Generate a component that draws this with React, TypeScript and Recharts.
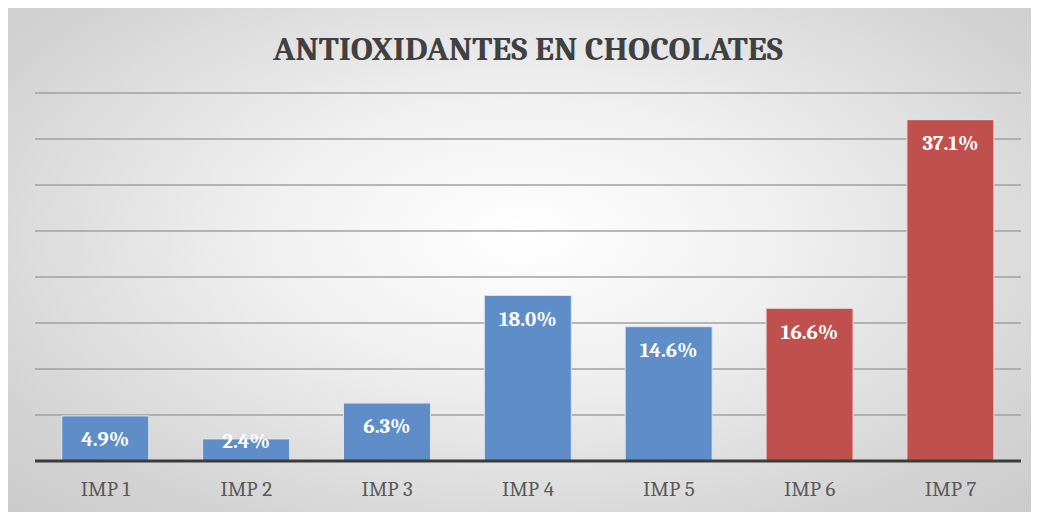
import { Bar, BarChart, CartesianGrid, Cell, LabelList, XAxis, YAxis } from "recharts";

const categories = ["IMP 1", "IMP 2", "IMP 3", "IMP 4", "IMP 5", "IMP 6", "IMP 7"];
const values = [4.9, 2.4, 6.3, 18.0, 14.6, 16.6, 37.1];
const yTicks = [0, 5, 10, 15, 20, 25, 30, 35, 40];
const title = "ANTIOXIDANTES EN CHOCOLATES";

const data = categories.map((name, i) => ({ name, value: values[i] }));

const BLUE = "#5f8dc7";
const RED = "#c0504d";
const FONT = "Caladea, Cambria, 'Liberation Serif', serif";

// label sits inside the top of the bar, but is pushed up when the bar is too short
function ValueLabel(props: any) {
  const { x, y, width, height, value } = props;
  const cy = y + Math.min(23, height - 20);
  return (
    <text
      x={x + width / 2}
      y={cy}
      dy="0.35em"
      textAnchor="middle"
      fill="#ffffff"
      fontFamily={FONT}
      fontWeight="bold"
      fontSize={21}
    >
      {`${Number(value).toFixed(1)}%`}
    </text>
  );
}

export default function App() {
  const width = 1031;
  const height = 505;

  return (
    <div
      style={{
        position: "relative",
        width,
        height,
        marginTop: -1,
        borderTop: "1px solid #b8b8b8",
        boxSizing: "border-box",
        background: "radial-gradient(ellipse at 50% 45%, #ffffff 0%, #f0f0f0 35%, #d4d4d4 80%, #cbcbcb 100%)",
      }}
    >
      <svg width={width} height={90} style={{ position: "absolute", left: 0, top: 0 }}>
        <text
          x={520}
          y={52}
          textAnchor="middle"
          textLength={510}
          lengthAdjust="spacingAndGlyphs"
          fill="#404040"
          fontFamily={FONT}
          fontWeight="bold"
          fontSize={32}
        >
          {title}
        </text>
      </svg>
      <BarChart
        width={width}
        height={height - 1}
        data={data}
        margin={{ top: 85, right: 18, bottom: 21, left: 27 }}
        barCategoryGap="19%"
        style={{ position: "absolute", left: 0, top: 0 }}
      >
        <CartesianGrid vertical={false} stroke="#a0a0a0" strokeWidth={1.5} />
        <YAxis hide domain={[0, 40]} ticks={yTicks} />
        <XAxis
          dataKey="name"
          axisLine={{ stroke: "#3a3a3a", strokeWidth: 3 }}
          tickLine={false}
          tickMargin={14}
          tick={{ fill: "#595959", fontSize: 21, fontFamily: FONT }}
        />
        <Bar dataKey="value" isAnimationActive={false} strokeWidth={1}>
          {data.map((d, i) => (
            <Cell
              key={d.name}
              fill={i >= 5 ? RED : BLUE}
              stroke={i >= 5 ? "#f2dcdb" : "#dce6f2"}
            />
          ))}
          <LabelList dataKey="value" content={<ValueLabel />} />
        </Bar>
      </BarChart>
    </div>
  );
}
